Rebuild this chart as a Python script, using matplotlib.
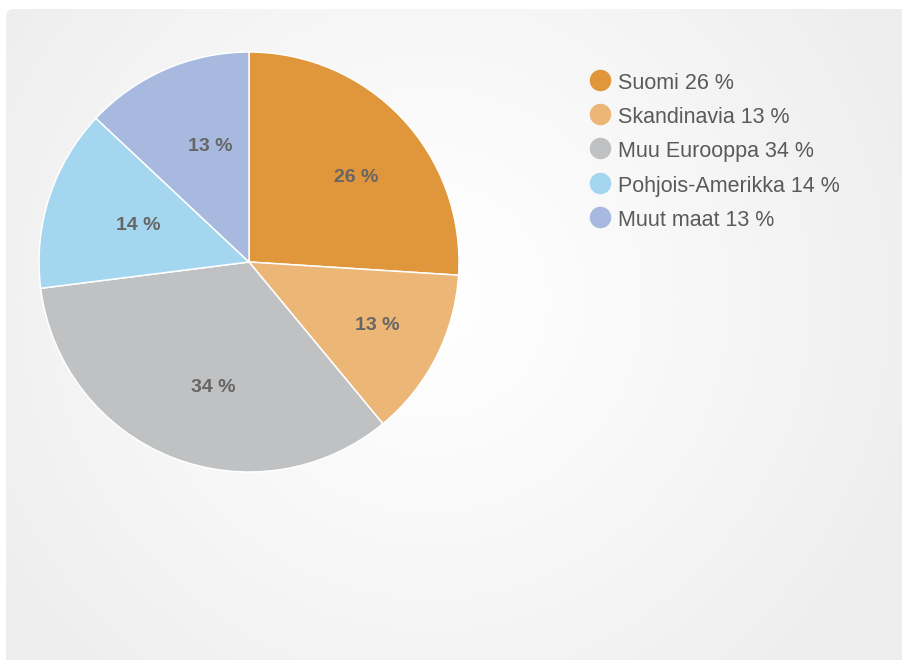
import numpy as np
import matplotlib
matplotlib.use("Agg")
import matplotlib.pyplot as plt
from matplotlib.patches import FancyBboxPatch

# ----------------------------------------------------------------------
# data
# ----------------------------------------------------------------------
regions = ["Suomi", "Skandinavia", "Muu Eurooppa", "Pohjois-Amerikka", "Muut maat"]
shares = [26, 13, 34, 14, 13]
colors = ["#e0963b", "#ebb676", "#c0c1c3", "#a4d7ef", "#a8b9e0"]

W, H = 903, 660
plt.rcParams['font.family'] = ['Liberation Sans', 'DejaVu Sans']

fig = plt.figure(figsize=(W / 100, H / 100), dpi=100)
fig.patch.set_facecolor("white")

# background panel with radial gradient, pixel coordinates
bg = fig.add_axes([0, 0, 1, 1])
bg.set_xlim(0, W)
bg.set_ylim(H, 0)
bg.axis("off")

yy, xx = np.mgrid[0:H, 0:W]
d = np.hypot(xx - 430, yy - 300) / 520.0
shade = 1.0 - 0.068 * np.clip(d, 0, 1) ** 1.2
img = np.dstack([shade, shade, shade])
im = bg.imshow(img, extent=(0, W, H, 0), zorder=0)
panel = FancyBboxPatch((6, 9), W + 20, H + 20, boxstyle="round,pad=0,rounding_size=8",
                       transform=bg.transData, facecolor="none", edgecolor="none")
bg.add_patch(panel)
im.set_clip_path(panel)

# pie
cx, cy, r = 249, 262, 210
ax = fig.add_axes([(cx - r) / W, (H - cy - r) / H, 2 * r / W, 2 * r / H])
wedges, texts = ax.pie(shares, colors=colors, startangle=90, counterclock=False,
                       labels=[f"{s} %" for s in shares], labeldistance=0.62,
                       wedgeprops=dict(edgecolor="white", linewidth=1.1))
for t in texts:
    x, y = t.get_position()
    # labels in the original sit a little right and below the wedge mid-point
    t.set_position((x + 0.06, y - 0.02))
    t.set_ha("center")
    t.set_va("center")
    t.set_color("#666666")
    t.set_fontweight("bold")
    t.set_fontsize(14)
ax.set_xlim(-1, 1)
ax.set_ylim(-1, 1)
ax.set_aspect("equal")

# legend
for i, (name, s, c) in enumerate(zip(regions, shares, colors)):
    y = 80 + i * 34.2
    bg.scatter([600], [y], s=240, color=c, zorder=3, linewidths=0)
    bg.text(618, y + 1, f"{name} {s} %", fontsize=15.5, color="#5a5a5a",
            va="center_baseline", ha="left")

fig.savefig("out.png", dpi=100)
